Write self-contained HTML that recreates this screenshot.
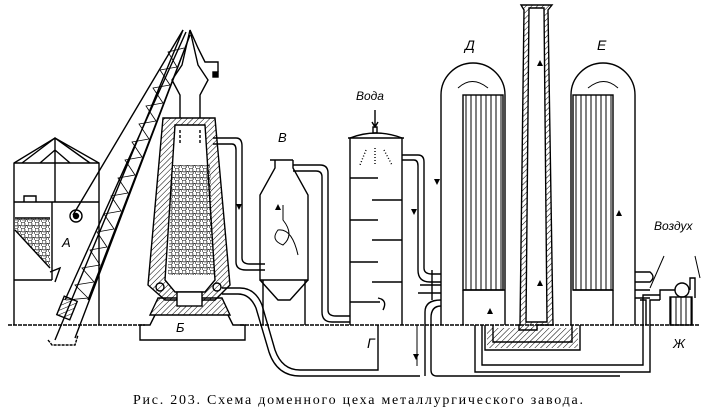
<!DOCTYPE html>
<html><head><meta charset="utf-8"><style>
html,body{margin:0;padding:0;background:#fff;width:720px;height:414px;overflow:hidden}
svg{display:block}
text{font-family:"Liberation Serif",serif;fill:#000}
.l{font-family:"Liberation Sans",sans-serif;font-style:italic}
</style></head><body>
<svg width="720" height="414" viewBox="0 0 720 414" xmlns="http://www.w3.org/2000/svg">
<defs>
<pattern id="h" width="4" height="4" patternUnits="userSpaceOnUse" patternTransform="rotate(45)">
<line x1="0" y1="0" x2="0" y2="4" stroke="#000" stroke-width="1"/></pattern>
<pattern id="d" width="7" height="6" patternUnits="userSpaceOnUse">
<circle cx="2" cy="2" r="2" fill="none" stroke="#000" stroke-width=".7"/><circle cx="5.5" cy="5" r="1.5" fill="none" stroke="#000" stroke-width=".7"/></pattern>
<pattern id="v" width="5" height="10" patternUnits="userSpaceOnUse"><line x1="1" y1="0" x2="1" y2="10" stroke="#000" stroke-width="1"/></pattern>
</defs>
<g fill="none" stroke="#000" stroke-width="1.4">
<line x1="8" y1="325" x2="145" y2="325" stroke-dasharray="4 1"/>
<line x1="240" y1="325" x2="700" y2="325" stroke-dasharray="4 1"/>
<!-- bunker A -->
<path d="M14,325 V163 L55,138 L99,163 V325"/>
<line x1="14" y1="163" x2="99" y2="163"/>
<path d="M22,163 L55,138 L90,163 M55,138 V202 M40,163 L55,150 L70,163"/>
<line x1="14" y1="202" x2="99" y2="202"/>
<line x1="52" y1="202" x2="52" y2="280"/>
<path d="M24,202 V196 H36 V202" />
<path d="M15,218 H50 V268 L15,230 Z" fill="url(#d)" stroke="none"/>
<path d="M15,218 H50 M50,268 L15,230"/>
<line x1="14" y1="280" x2="52" y2="280"/>
<path d="M50,272 L60,268 L55,282"/>
<!-- crane -->
<path d="M55,340 L183,30 M75,338 L190,35 M65,300 L186,32 M88,300 L190,35"/>
<path d="M66,300 L88,298 L75,285 L94,282 L82,268 L100,265 L90,250 L107,247 L97,232 L114,229 L104,214 L121,211 L111,196 L128,193 L118,178 L135,175 L125,160 L142,157 L132,142 L149,139 L139,124 L156,121 L146,106 L163,103 L153,88 L170,85 L160,70 L177,67 L168,52 L184,48" stroke-width=".8"/>
<path d="M73,215 L183,30" />
<circle cx="76" cy="216" r="6"/><circle cx="76" cy="216" r="2.5" fill="#000"/>
<path d="M48,340 L52,345 H75 L78,335" stroke-dasharray="3 1"/>
<rect x="60" y="298" width="14" height="20" fill="url(#h)" transform="rotate(22 67 308)"/>
<!-- furnace -->
<path d="M163,118 H215 L230,285 L215,300 H165 L148,285 Z" fill="url(#h)"/>
<path d="M175,125 H205 L215,280 L205,292 H175 L165,280 Z" fill="#fff"/>
<path d="M172,165 H210 L214,275 H168 Z" fill="url(#d)" stroke="none"/>
<path d="M180,118 V95 L172,80 L182,65 L190,30 L198,65 L208,80 L200,95 V118"/>
<path d="M190,30 L198,48 L205,62 H218 V72"/>
<rect x="213" y="72" width="5" height="5" fill="#000"/>
<path d="M180,130 V145 M200,130 V145" stroke-dasharray="3 2"/>
<path d="M158,298 L150,315 H230 L222,298 Z" fill="url(#h)"/>
<rect x="177" y="292" width="25" height="14" fill="#fff"/>
<path d="M155,315 L150,325 H140 V340 H245 V325 H233 L228,315"/>
<circle cx="160" cy="287" r="4"/><circle cx="217" cy="287" r="4"/>
<!-- pipe furnace->B -->
<path d="M213,138 H236 Q242,138 242,146 V258 Q242,264 250,264 H265"/>
<path d="M213,144 H232 Q236,144 236,150 V262 Q236,270 246,270 H265"/>
<!-- B -->
<path d="M270,160 H293 M275,160 V168 L260,195 V280 H308 V195 L293,168 V160"/>
<path d="M260,280 L278,300 H290 L308,280"/>
<path d="M263,280 V325 M305,280 V325"/>
<path d="M283,205 V220 Q295,235 283,245 Q270,240 278,230 Q292,228 298,255" stroke-width="1"/>
<path d="M293,165 H320 Q328,165 328,173 V310 Q328,316 336,316 H350"/>
<path d="M293,171 H316 Q322,171 322,177 V312 Q322,322 332,322 H350"/>
<!-- pipe furnace bottom -> underground -->
<path d="M222,288 H240 Q255,288 262,305 L275,350 Q282,370 300,370 H378 V325"/>
<path d="M222,294 H238 Q250,294 256,308 L269,352 Q277,376 300,376 H420"/>
<!-- scrubber -->
<path d="M350,325 V138 Q376,128 402,138 V325"/>
<line x1="348" y1="138" x2="404" y2="138"/>
<path d="M375,110 V126 M372,122 L375,127 L378,122"/>
<rect x="373" y="127" width="4" height="6"/>
<path d="M366,150 L360,165 M375,148 V165 M384,150 L392,165" stroke-dasharray="1 2"/>
<path d="M350,178 H378 M372,200 H402 M350,220 H378 M372,240 H402 M350,262 H378 M372,282 H402 M350,302 H380"/>
<path d="M378,298 Q388,300 383,310"/>
<path d="M402,155 H418 Q424,155 424,162 V268 Q424,274 432,274 H441"/>
<path d="M402,160 H414 Q418,160 418,166 V270 Q418,282 430,282 H441"/>
<path d="M420,285 H441 M418,293 H441 M432,270 V300"/>
<path d="M441,300 Q425,300 425,312 V376 M441,306 Q431,306 431,318 V370 Q431,376 437,376 H620"/>
<path d="M417,325 V366" stroke-width="1"/>
<!-- stove Д -->
<path d="M441,325 V95 A32,32 0 0 1 505,95 V325"/>
<rect x="463" y="95" width="40" height="195" fill="url(#v)"/>
<path d="M463,290 H505 M463,290 V325"/>
<path d="M458,88 Q472,75 488,88" stroke-width="1"/>
<!-- chimney -->
<path d="M521,5 H552 L548,10 L553,325 H537 V330 L519,330 V325 H520 L524,10 Z" fill="url(#h)"/>
<path d="M529,8 L526,322 H547 L544,8 Z" fill="#fff"/>
<!-- stove Е -->
<path d="M571,325 V95 A32,32 0 0 1 635,95 V325"/>
<rect x="573" y="95" width="40" height="195" fill="url(#v)"/>
<path d="M573,290 H613 M613,290 V325"/>
<path d="M618,88 Q604,75 588,88" stroke-width="1"/>
<!-- underground channel -->
<path d="M485,325 V350 H580 V325 M493,325 V342 H572 V325" />
<path d="M487,328 V348 H578 V328" fill="url(#h)" stroke="none"/>
<path d="M475,325 V372 H650 V300 H660 M482,325 V365 H643 V295 H660"/>
<!-- air -->
<path d="M635,272 H650 Q656,277 650,282 H635 M635,290 H650 M635,298 H650"/>
<path d="M640,300 H646 V325"/>
<circle cx="682" cy="290" r="7"/>
<rect x="670" y="297" width="22" height="28" fill="url(#v)"/>
<path d="M660,300 V290 H675 M690,290 V278 H695 V298"/>
<path d="M664,256 L650,288 M695,256 L700,278" stroke-width="1"/>
</g>
<g fill="#000">
<path d="M437,185 l-3,-6 h6z"/><path d="M540,60 l-3,6 h6z"/><path d="M540,280 l-3,6 h6z"/>
<path d="M619,210 l-3,6 h6z"/><path d="M239,210 l-3,-6 h6z"/><path d="M414,215 l-3,-6 h6z"/>
<path d="M416,360 l-3,-6 h6z"/><path d="M490,308 l-3,6 h6z"/><path d="M278,204 l-3,6 h6z"/>
</g>
<text class="l" x="62" y="247" font-size="13">А</text>
<text class="l" x="176" y="332" font-size="13">Б</text>
<text class="l" x="278" y="142" font-size="13">В</text>
<text class="l" x="367" y="348" font-size="14">Г</text>
<text class="l" x="465" y="50" font-size="14">Д</text>
<text class="l" x="597" y="50" font-size="14">Е</text>
<text class="l" x="673" y="348" font-size="13">Ж</text>
<text class="l" x="356" y="100" font-size="12">Вода</text>
<text class="l" x="654" y="230" font-size="12">Воздух</text>
<text x="133" y="404" font-size="14" textLength="450" lengthAdjust="spacing">Рис. 203. Схема доменного цеха металлургического завода.</text>
</svg>
</body></html>
